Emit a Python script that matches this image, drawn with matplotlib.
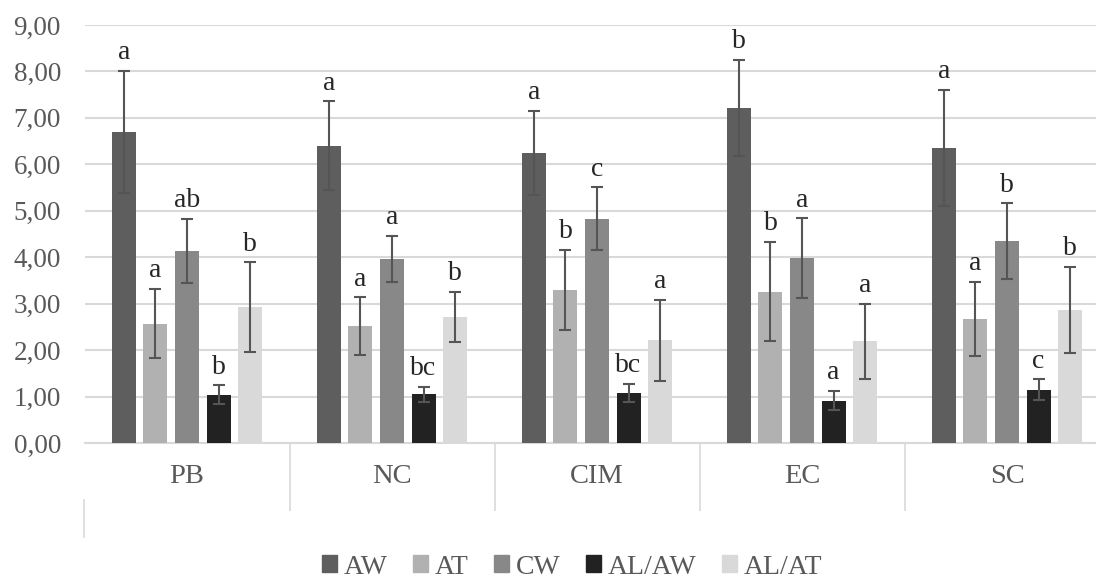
import numpy as np
import matplotlib
matplotlib.use('Agg')
import matplotlib.pyplot as plt
from matplotlib.ticker import FuncFormatter
from matplotlib.lines import Line2D

plt.rcParams['font.family'] = ['Liberation Serif', 'DejaVu Serif']

# --- data ---
sites = ['PB', 'NC', 'CIM', 'EC', 'SC']
series = ['AW', 'AT', 'CW', 'AL/AW', 'AL/AT']

means = {
    'AW':    [6.70, 6.40, 6.25, 7.22, 6.35],
    'AT':    [2.57, 2.52, 3.30, 3.26, 2.67],
    'CW':    [4.14, 3.96, 4.83, 3.98, 4.35],
    'AL/AW': [1.04, 1.05, 1.08, 0.91, 1.15],
    'AL/AT': [2.93, 2.72, 2.21, 2.19, 2.87],
}
errs = {
    'AW':    [1.32, 0.96, 0.90, 1.03, 1.25],
    'AT':    [0.75, 0.62, 0.86, 1.07, 0.80],
    'CW':    [0.69, 0.50, 0.68, 0.86, 0.81],
    'AL/AW': [0.20, 0.16, 0.19, 0.21, 0.22],
    'AL/AT': [0.96, 0.54, 0.87, 0.81, 0.93],
}
letters = {
    'AW':    ['a', 'a', 'a', 'b', 'a'],
    'AT':    ['a', 'a', 'b', 'b', 'a'],
    'CW':    ['ab', 'a', 'c', 'a', 'b'],
    'AL/AW': ['b', 'bc', 'bc', 'a', 'c'],
    'AL/AT': ['b', 'b', 'a', 'a', 'b'],
}
colors = ['#5e5e5e', '#b1b1b1', '#888888', '#222222', '#d9d9d9']

# --- figure ---
fig = plt.figure(figsize=(10.96, 5.79), dpi=100)
# plot area runs past the right edge, like the cropped original
ax = fig.add_axes([84.5 / 1096, 136 / 579, 1025 / 1096, 418 / 579])

x = np.arange(len(sites))
step = 0.1537
width = 0.117

for i, s in enumerate(series):
    pos = x + (i - 2) * step
    ax.bar(pos, means[s], width=width, color=colors[i], zorder=3)
    ax.errorbar(pos, means[s], yerr=errs[s], fmt='none', ecolor='#555555',
                elinewidth=1.5, capsize=4.5, capthick=1.5, zorder=4)
    for p, m, e, l in zip(pos, means[s], errs[s], letters[s]):
        ax.text(p, m + e + 0.12, l, ha='center', va='bottom', fontsize=20, color='#262626')

ax.set_xlim(-0.5, 4.5)
ax.set_ylim(0, 9)
ax.set_yticks(np.arange(0, 10, 1))
ax.yaxis.set_major_formatter(FuncFormatter(lambda v, p: f'{v:.2f}'.replace('.', ',')))
ax.set_xticks(x)
ax.set_xticklabels(sites)
ax.set_xticks([0.5, 1.5, 2.5, 3.5], minor=True)

ax.grid(axis='y', color='#d9d9d9', linewidth=1.5, zorder=0)
for sp in ['top', 'right', 'left']:
    ax.spines[sp].set_visible(False)
ax.spines['bottom'].set_color('#d9d9d9')
ax.spines['bottom'].set_linewidth(1.5)

ax.tick_params(axis='y', length=0, labelsize=19.5, labelcolor='#595959', pad=17)
ax.tick_params(axis='x', which='major', length=0, labelsize=20.5, labelcolor='#595959', pad=15)
ax.tick_params(axis='x', which='minor', length=49, width=1.2, color='#d9d9d9')

# stray line left over in the original crop
fig.add_artist(Line2D([84 / 1096, 84 / 1096], [1 - 500 / 579, 1 - 537 / 579],
                      color='#d9d9d9', linewidth=1.2))

handles = [plt.Rectangle((0, 0), 1, 1, color=c) for c in colors]
fig.legend(handles, series, loc='center', bbox_to_anchor=(572 / 1096, 1 - 567 / 579),
           ncol=5, frameon=False, fontsize=20, handlelength=0.55, handleheight=0.55,
           handletextpad=0.25, columnspacing=0.9, labelcolor='#595959')

fig.savefig('out.png', dpi=100)
